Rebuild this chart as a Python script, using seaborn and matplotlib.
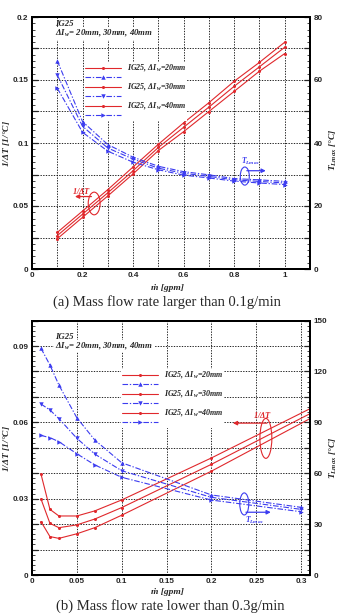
import matplotlib
matplotlib.use('Agg')
import matplotlib.pyplot as plt
import seaborn as sns
import numpy as np
import pandas as pd
from matplotlib.patches import Ellipse
from matplotlib.ticker import MultipleLocator, FuncFormatter

# ---------------- data: (a) mass flow rate larger than 0.1 g/min ----------------
x_a = [0.1, 0.2, 0.3, 0.4, 0.5, 0.6, 0.7, 0.8, 0.9, 1.0]
inv_dT_a_20 = [0.029, 0.046, 0.063, 0.081, 0.099, 0.116, 0.132, 0.149, 0.164, 0.180]
inv_dT_a_30 = [0.0265, 0.0435, 0.0605, 0.078, 0.0965, 0.1125, 0.1285, 0.145, 0.1605, 0.176]
inv_dT_a_40 = [0.024, 0.041, 0.058, 0.0755, 0.094, 0.109, 0.125, 0.141, 0.157, 0.171]
TL_a_20 = [66.1, 46.8, 39.5, 35.5, 32.6, 30.9, 29.9, 28.7, 28.3, 27.8]
TL_a_30 = [61.6, 45.3, 38.4, 34.9, 32.0, 30.4, 29.4, 28.3, 27.8, 27.3]
TL_a_40 = [57.4, 43.4, 37.4, 33.9, 31.5, 29.8, 28.9, 27.9, 27.3, 26.8]

# ---------------- data: (b) mass flow rate lower than 0.3 g/min ----------------
x_b_red = [0.01, 0.02, 0.03, 0.05, 0.07, 0.1, 0.2, 0.4]
inv_dT_b_20 = [0.0397, 0.0258, 0.0232, 0.0232, 0.0252, 0.0295, 0.0460, 0.0812]
inv_dT_b_30 = [0.0299, 0.0203, 0.0186, 0.0197, 0.0220, 0.0265, 0.0435, 0.0797]
inv_dT_b_40 = [0.0210, 0.0151, 0.0144, 0.0162, 0.0186, 0.0235, 0.0408, 0.0784]
x_b_blue = [0.01, 0.02, 0.03, 0.05, 0.07, 0.1, 0.2, 0.3]
TL_b_20 = [133.7, 123.8, 112.0, 92.7, 79.6, 66.2, 47.2, 39.9]
TL_b_30 = [100.8, 97.3, 92.2, 80.6, 71.3, 61.5, 45.8, 38.7]
TL_b_40 = [82.3, 81.0, 78.6, 71.5, 64.9, 57.6, 44.2, 37.3]

legend_labels = [r'IG25, $\Delta I_w$=20mm', r'IG25, $\Delta I_w$=30mm', r'IG25, $\Delta I_w$=40mm']
caption_a = '(a) Mass flow rate larger than 0.1g/min'
caption_b = '(b) Mass flow rate lower than 0.3g/min'

sns.set_theme(style='white')
plt.rcParams['font.family'] = ['Liberation Sans', 'DejaVu Sans']
plt.rcParams['mathtext.fontset'] = 'custom'
plt.rcParams['mathtext.rm'] = 'Liberation Serif:italic:bold'
plt.rcParams['mathtext.it'] = 'Liberation Serif:italic:bold'
plt.rcParams['mathtext.bf'] = 'Liberation Serif:italic:bold'

RED = '#e0282c'
BLUE = '#3c3cf0'
SERIF = ['Liberation Serif', 'DejaVu Serif']
DASHDOT = (0, (5, 1.6, 1.2, 1.6))
blue_markers = ['^', 'v', '>']

W, H = 341, 614
fig = plt.figure(figsize=(W / 100, H / 100), dpi=100)
fig.patch.set_facecolor('white')
axA = fig.add_axes([32 / W, 1 - 269 / H, 278 / W, 252 / H])
axB = fig.add_axes([32 / W, 1 - 575 / H, 278 / W, 254.4 / H])


def fmt_every(step):
    def f(v, p):
        q = v / step
        if abs(q - round(q)) < 1e-6:
            return '%g' % round(v, 6)
        return ''
    return FuncFormatter(f)


def style(ax, axr, xlim, xmaj, xmin, xlab, ylim, ymaj, ymin, ylab, yrlim, yrmaj, yrmin, yrlab):
    ax.set_xlim(*xlim)
    ax.set_ylim(*ylim)
    axr.set_ylim(*yrlim)
    ax.xaxis.set_major_locator(MultipleLocator(xmaj))
    ax.xaxis.set_minor_locator(MultipleLocator(xmin))
    ax.xaxis.set_major_formatter(fmt_every(xlab))
    ax.yaxis.set_major_locator(MultipleLocator(ymaj))
    ax.yaxis.set_minor_locator(MultipleLocator(ymin))
    ax.yaxis.set_major_formatter(fmt_every(ylab))
    axr.yaxis.set_major_locator(MultipleLocator(yrmaj))
    axr.yaxis.set_minor_locator(MultipleLocator(yrmin))
    axr.yaxis.set_major_formatter(fmt_every(yrlab))
    for a in (ax, axr):
        a.tick_params(which='major', direction='in', length=4, width=0.9, labelsize=5.9, pad=2.5)
        a.tick_params(which='minor', direction='in', length=2, width=0.6)
        for lab in a.get_xticklabels() + a.get_yticklabels():
            lab.set_fontweight('bold')
        for s in a.spines.values():
            s.set_linewidth(1.4)
            s.set_color('black')
    ax.tick_params(axis='x', which='both', top=False)
    axr.tick_params(axis='y', which='both', left=False, right=True)
    ax.grid(True, which='major', color='black', linestyle=(0, (1.6, 1.6)), linewidth=0.6)
    ax.set_xlabel('')
    ax.set_ylabel('')
    axr.set_ylabel('')


def draw(ax, axr, xr, reds, xb, blues):
    handles = []
    for r, b, mk in zip(reds, blues, blue_markers):
        sns.lineplot(x=xr, y=r, ax=ax, color=RED, lw=0.8, marker='o', markersize=2.2,
                     markeredgewidth=0, sort=False, estimator=None)
        sns.lineplot(x=xb, y=b, ax=axr, color=BLUE, lw=0.8, linestyle=DASHDOT, marker=mk,
                     markersize=3.2, markeredgewidth=0, sort=False, estimator=None)
        handles.append(ax.lines[-1])
        handles.append(axr.lines[-1])
    return handles


# ---------------- panel (a) ----------------
axAr = axA.twinx()
hA = draw(axA, axAr, x_a, [inv_dT_a_20, inv_dT_a_30, inv_dT_a_40],
          x_a, [TL_a_20, TL_a_30, TL_a_40])
style(axA, axAr, (0, 1.1), 0.1, 0.02, 0.2, (0, 0.2), 0.025, 0.005, 0.05, (0, 80), 10, 2, 20)

# ---------------- panel (b) ----------------
axBr = axB.twinx()
hB = draw(axB, axBr, x_b_red, [inv_dT_b_20, inv_dT_b_30, inv_dT_b_40],
          x_b_blue, [TL_b_20, TL_b_30, TL_b_40])
style(axB, axBr, (0, 0.31), 0.05, 0.01, 0.05, (0, 0.1), 0.01, 0.002, 0.03, (0, 150), 15, 3, 30)


def legend(axr, handles, anchor):
    labels = [legend_labels[0], ' ', legend_labels[1], ' ', legend_labels[2], ' ']
    leg = axr.legend(handles, labels, loc='upper left', bbox_to_anchor=anchor,
                     frameon=True, fancybox=False, framealpha=1, facecolor='white',
                     edgecolor='none', handlelength=4.5, handletextpad=0.7, labelspacing=0.0,
                     borderpad=0.1, borderaxespad=0,
                     prop={'family': SERIF, 'weight': 'bold', 'style': 'italic', 'size': 5.8})
    leg.set_zorder(10)
    return leg


legend(axAr, hA, ((84 - 32) / 278, (269 - 62) / 252))
legend(axBr, hB, ((121 - 32) / 278, (575 - 369) / 254.4))

txtkw = dict(family=SERIF, fontweight='bold', fontstyle='italic', fontsize=6.3, ha='left', va='center')
for ax, x0, y1, y2 in [(axA, 0.091, 0.1942, 0.1869), (axB, 0.0256, 0.0934, 0.0900)]:
    ax.text(x0, y1, 'IG25', **txtkw)
    ax.text(x0, y2, r'$\Delta I_w$= 20mm, 30mm, 40mm',
            bbox=dict(facecolor='white', edgecolor='none', pad=0.5), **txtkw)


def marker_note(ax, center, w, h, tail, head, label_xy, label, color, fs):
    ax.add_patch(Ellipse(center, w, h, fill=False, edgecolor=color, lw=0.8, zorder=6))
    ax.annotate('', xy=head, xytext=tail,
                arrowprops=dict(arrowstyle='-|>', color=color, lw=0.9, mutation_scale=6,
                                shrinkA=0, shrinkB=0), zorder=6)
    ax.text(label_xy[0], label_xy[1], label, color=color, fontsize=fs, ha='center', va='center',
            zorder=6)


marker_note(axA, (0.246, 0.052), 0.047, 0.018, (0.235, 0.0575), (0.170, 0.0575),
            (0.196, 0.0620), r'$1/\Delta T$', RED, 6)
marker_note(axAr, (0.842, 29.5), 0.0356, 5.75, (0.85, 31.2), (0.925, 31.2),
            (0.866, 34.1), r'$T_{Lmax}$', BLUE, 5.5)
marker_note(axB, (0.2608, 0.0537), 0.0133, 0.0157, (0.262, 0.0597), (0.224, 0.0597),
            (0.257, 0.0629), r'$1/\Delta T$', RED, 6)
marker_note(axBr, (0.2367, 41.9), 0.010, 13, (0.2386, 37.0), (0.2663, 37.0),
            (0.248, 32.0), r'$T_{Lmax}$', BLUE, 5.5)

labkw = dict(fontsize=6.8, ha='center', va='center', family=SERIF, fontweight='bold', fontstyle='italic')
fig.text(6 / W, 1 - 143 / H, r'$1/\Delta T$ [1/°C]', rotation=90, **labkw)
fig.text(333 / W, 1 - 150 / H, r'$T_{Lmax}$ [°C]', rotation=90, **labkw)
fig.text(167 / W, 1 - 287.5 / H, 'ṁ [gpm]', **labkw)
fig.text(6 / W, 1 - 448 / H, r'$1/\Delta T$ [1/°C]', rotation=90, **labkw)
fig.text(333 / W, 1 - 458 / H, r'$T_{Lmax}$ [°C]', rotation=90, **labkw)
fig.text(167 / W, 1 - 592.5 / H, 'ṁ [gpm]', **labkw)

capkw = dict(fontsize=10.5, ha='center', va='center', family=SERIF)
fig.text(167 / W, 1 - 302 / H, caption_a, **capkw)
fig.text(170 / W, 1 - 606 / H, caption_b, **capkw)

fig.savefig('out.png', dpi=100, facecolor='white')
